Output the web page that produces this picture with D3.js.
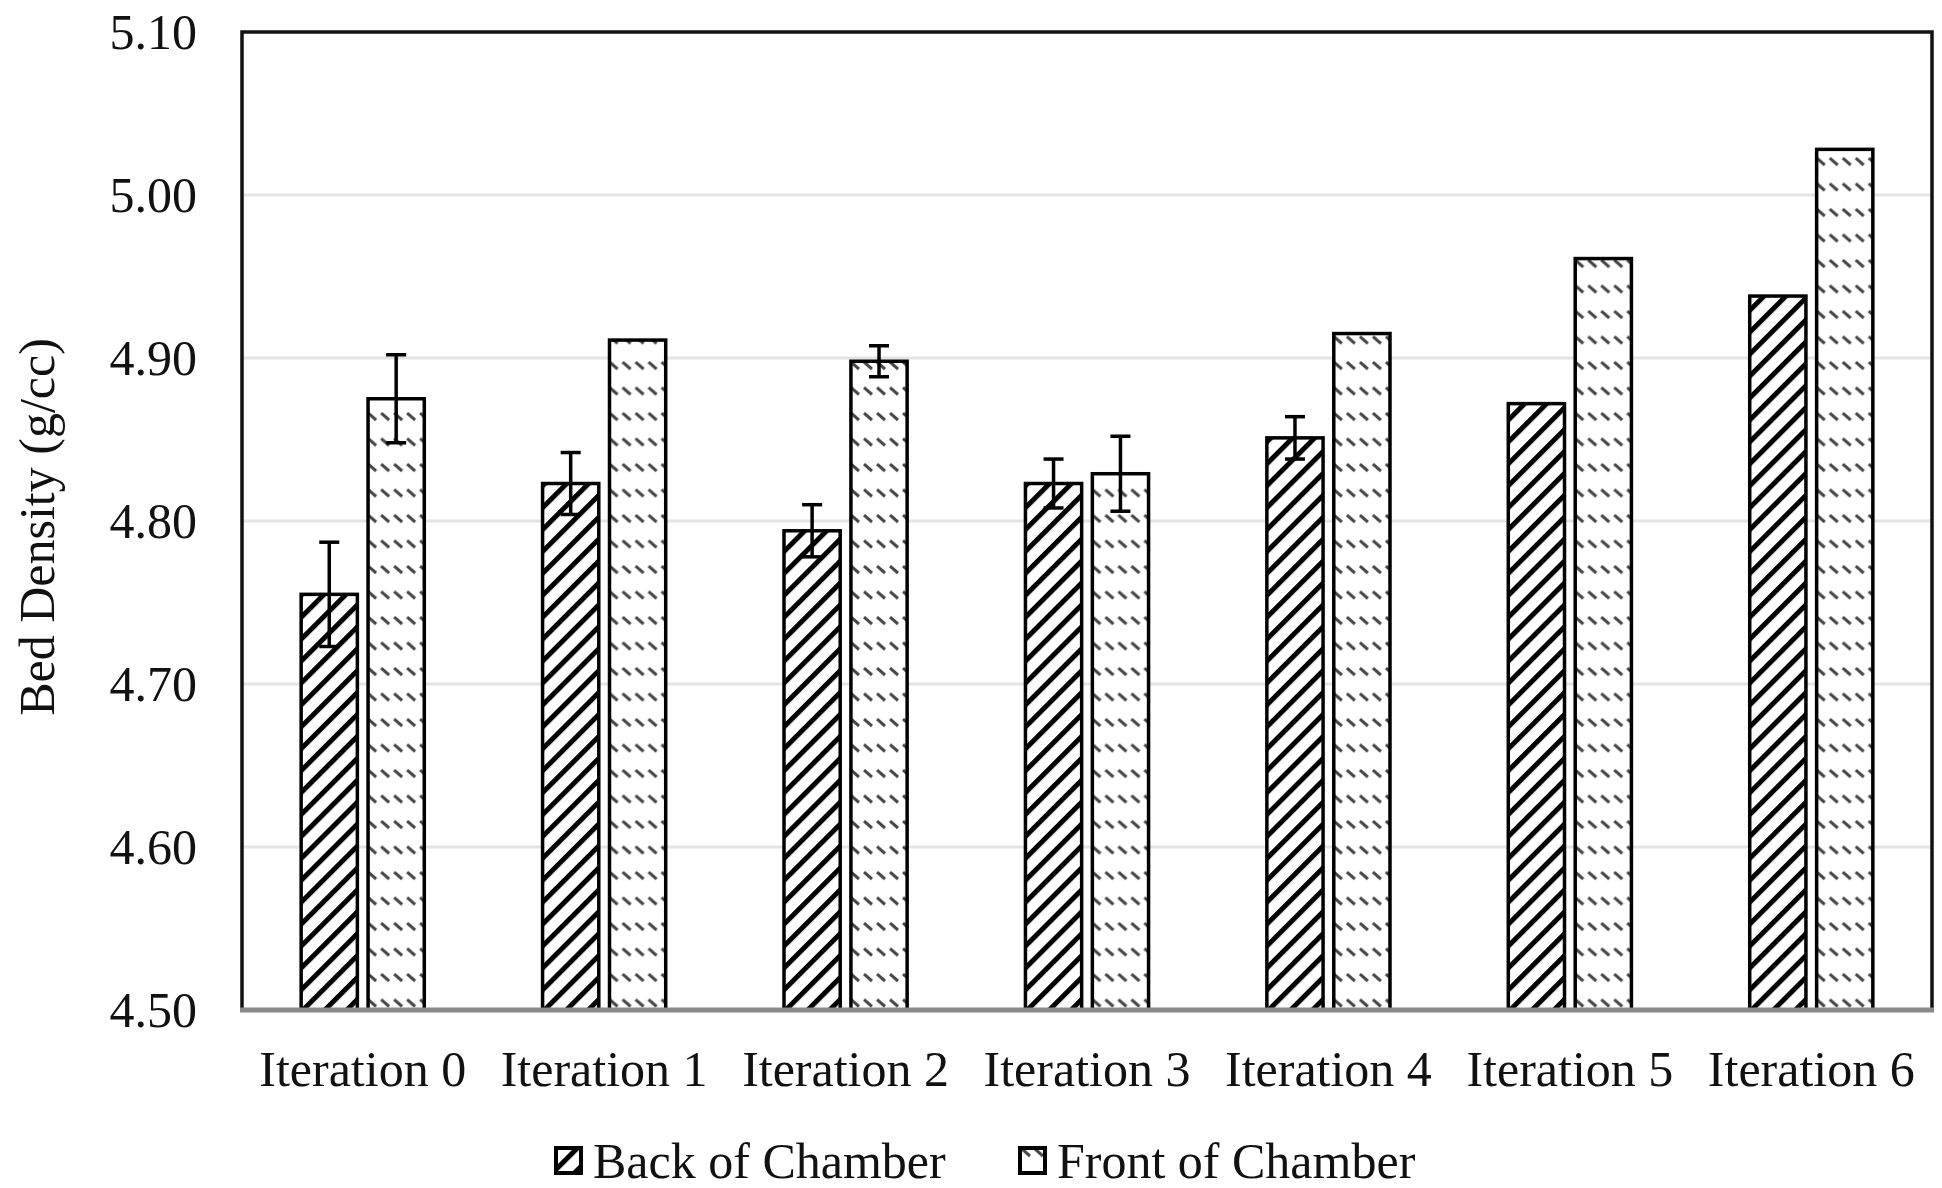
<!DOCTYPE html>
<html>
<head>
<meta charset="utf-8">
<script src="https://cdn.jsdelivr.net/npm/d3@7"></script>
<style>
  html, body { margin: 0; padding: 0; background: #fff; }
  svg { display: block; }
  text { font-family: "Liberation Serif", "Times New Roman", serif; fill: #111; }
</style>
</head>
<body>
<svg id="chart" width="1942" height="1188"></svg>
<script>
// ---- data ----
const categories = ["Iteration 0", "Iteration 1", "Iteration 2", "Iteration 3", "Iteration 4", "Iteration 5", "Iteration 6"];
const seriesNames = ["Back of Chamber", "Front of Chamber"];
const backValues  = [4.755, 4.823, 4.794, 4.823, 4.851, 4.872, 4.938];
const frontValues = [4.875, 4.911, 4.898, 4.829, 4.915, 4.961, 5.028];
const backErr     = [0.032, 0.019, 0.016, 0.015, 0.013, 0, 0];
const frontErr    = [0.027, 0, 0.0095, 0.023, 0, 0, 0];
const yTicks = [4.50, 4.60, 4.70, 4.80, 4.90, 5.00, 5.10];
const yTitle = "Bed Density (g/cc)";

// ---- layout ----
const plot = { left: 242, right: 1932, top: 32, bottom: 1010 };
const svg = d3.select("#chart");

const x0 = d3.scaleBand().domain(categories).range([plot.left, plot.right]).paddingInner(0.49).paddingOuter(0.245);
const x1 = d3.scaleBand().domain(seriesNames).range([0, x0.bandwidth()]).paddingInner(0.16).paddingOuter(0);
const y = d3.scaleLinear().domain([4.5, 5.1]).range([plot.bottom, plot.top]);

// ---- patterns ----
const defs = svg.append("defs");
const pBack = defs.append("pattern").attr("id", "pBack").attr("patternUnits", "userSpaceOnUse")
  .attr("width", 15.5).attr("height", 15.5).attr("patternTransform", "rotate(45)");
pBack.append("rect").attr("width", 15.5).attr("height", 15.5).attr("fill", "#fff");
pBack.append("line").attr("x1", 2.5).attr("y1", -2).attr("x2", 2.5).attr("y2", 18).attr("stroke", "#000").attr("stroke-width", 5);

const pFront = defs.append("pattern").attr("id", "pFront").attr("patternUnits", "userSpaceOnUse")
  .attr("width", 13).attr("height", 25.5);
pFront.append("rect").attr("width", 13).attr("height", 25.5).attr("fill", "#fff");
pFront.append("line").attr("x1", 2).attr("y1", 5).attr("x2", 10).attr("y2", 12).attr("stroke", "#444").attr("stroke-width", 3);

const fills = { "Back of Chamber": "url(#pBack)", "Front of Chamber": "url(#pFront)" };

// ---- gridlines ----
svg.append("g").selectAll("line").data(yTicks.filter(t => t > 4.5 && t < 5.1)).join("line")
  .attr("x1", plot.left).attr("x2", plot.right)
  .attr("y1", d => y(d)).attr("y2", d => y(d))
  .attr("stroke", "#e4e4e4").attr("stroke-width", 3);

// ---- frame (top, left, right) ----
svg.append("path")
  .attr("d", `M${plot.left},${plot.bottom} V${plot.top} H${plot.right} V${plot.bottom}`)
  .attr("fill", "none").attr("stroke", "#111").attr("stroke-width", 3.5);

// ---- bars ----
const rows = categories.map((c, i) => ({
  cat: c,
  items: [
    { s: seriesNames[0], v: backValues[i], e: backErr[i] },
    { s: seriesNames[1], v: frontValues[i], e: frontErr[i] }
  ]
}));

const groups = svg.append("g").selectAll("g").data(rows).join("g")
  .attr("transform", d => `translate(${x0(d.cat)},0)`);

groups.selectAll("rect").data(d => d.items).join("rect")
  .attr("x", d => x1(d.s))
  .attr("width", x1.bandwidth())
  .attr("y", d => y(d.v))
  .attr("height", d => y(4.5) - y(d.v))
  .attr("fill", d => fills[d.s])
  .attr("stroke", "#000").attr("stroke-width", 3.5);

// ---- error bars ----
const capW = 20;
const eb = groups.selectAll("g.err").data(d => d.items.filter(it => it.e > 0)).join("g").attr("class", "err");
eb.append("line")
  .attr("x1", d => x1(d.s) + x1.bandwidth() / 2).attr("x2", d => x1(d.s) + x1.bandwidth() / 2)
  .attr("y1", d => y(d.v + d.e)).attr("y2", d => y(d.v - d.e))
  .attr("stroke", "#000").attr("stroke-width", 3.5);
eb.selectAll("line.cap").data(d => [{ d, v: d.v + d.e }, { d, v: d.v - d.e }]).join("line").attr("class", "cap")
  .attr("x1", o => x1(o.d.s) + x1.bandwidth() / 2 - capW / 2)
  .attr("x2", o => x1(o.d.s) + x1.bandwidth() / 2 + capW / 2)
  .attr("y1", o => y(o.v)).attr("y2", o => y(o.v))
  .attr("stroke", "#000").attr("stroke-width", 3.5);

// ---- x axis (baseline) ----
const xAxis = d3.axisBottom(x0).tickSize(0).tickPadding(40);
const gx = svg.append("g").attr("transform", `translate(0,${plot.bottom})`).call(xAxis);
gx.select(".domain").attr("stroke", "#8a8a8a").attr("stroke-width", 5)
  .attr("d", `M${plot.left - 2},0H${plot.right + 2}`);
gx.selectAll("text").attr("font-size", 50).attr("font-family", "Liberation Serif").attr("fill", "#111");

// ---- y axis ----
const yAxis = d3.axisLeft(y).tickValues(yTicks).tickFormat(d3.format(".2f")).tickSize(0).tickPadding(45);
const gy = svg.append("g").attr("transform", `translate(${plot.left},0)`).call(yAxis);
gy.select(".domain").remove();
gy.selectAll("text").attr("font-size", 50).attr("font-family", "Liberation Serif").attr("fill", "#111");

// ---- y title ----
svg.append("text")
  .attr("transform", `translate(54,${(plot.top + plot.bottom) / 2 + 6}) rotate(-90)`)
  .attr("text-anchor", "middle")
  .attr("font-size", 50)
  .text(yTitle);

// ---- legend ----
const legendX = [556, 1020];
const leg = svg.append("g").selectAll("g").data(seriesNames).join("g")
  .attr("transform", (d, i) => `translate(${legendX[i]},1144)`);
leg.append("rect").attr("x", 0).attr("y", 4).attr("width", 25).attr("height", 25)
  .attr("fill", d => fills[d]).attr("stroke", "#000").attr("stroke-width", 4);
leg.append("text").attr("x", 37).attr("y", 34).attr("font-size", 50).text(d => d);
</script>
</body>
</html>
